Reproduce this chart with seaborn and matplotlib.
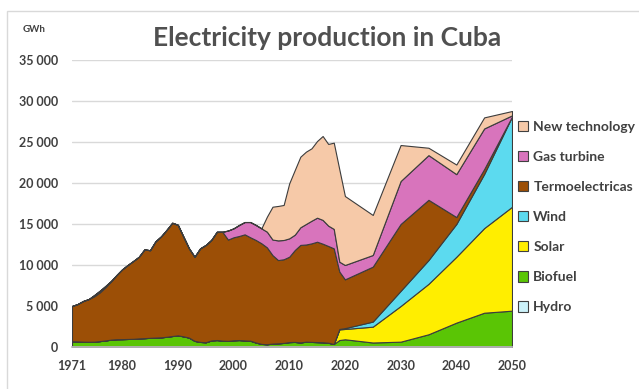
import matplotlib
matplotlib.use("Agg")
import matplotlib.pyplot as plt
import seaborn as sns
from matplotlib.patches import Rectangle, Patch
from matplotlib.ticker import FuncFormatter, MultipleLocator

# Annual history 1971-2019, then five-year scenario steps to 2050 (GWh)
years = list(range(1971, 2020)) + [2020, 2025, 2030, 2035, 2040, 2045, 2050]

hydro = [90, 90, 90, 90, 90, 90, 90, 90, 90, 90,
         90, 90, 90, 90, 90, 90, 90, 90, 90, 90,
         90, 90, 90, 90, 90, 90, 90, 90, 90, 90,
         90, 90, 90, 90, 90, 90, 90, 90, 90, 90,
         90, 90, 90, 90, 90, 90, 90, 90, 90,
         100, 100, 100, 100, 100, 100, 100]

biofuel = [610, 590, 560, 550, 560, 630, 710, 810, 860, 870,
           890, 910, 960, 990, 1030, 1060, 1090, 1160, 1250, 1330,
           1210, 1060, 660, 530, 490, 710, 760, 690, 660, 730,
           760, 710, 680, 460, 290, 250, 330, 360, 410, 510,
           530, 470, 560, 530, 510, 490, 430, 280, 760,
           840, 450, 550, 1450, 2870, 4080, 4330]

solar = [0] * 48 + [1300,
         1260, 1930, 4350, 6150, 8030, 10320, 12670]

wind = [0] * 48 + [50,
        100, 620, 1850, 2900, 4000, 6600, 11000]

termo = [4300, 4560, 4960, 5210, 5540, 5950, 6490, 7100, 7830, 8510,
         9020, 9490, 9950, 10820, 10680, 11750, 12320, 13050, 13810, 13480,
         12150, 10880, 10250, 11410, 11860, 12250, 13200, 13270, 12350, 12560,
         12690, 12940, 12610, 12500, 12270, 11810, 10780, 10150, 10200, 10410,
         11210, 11890, 11850, 12020, 12240, 12020, 11800, 11660, 7000,
         5950, 6700, 8150, 7350, 850, 600, 0]

gas = [0, 0, 0, 0, 150, 200, 150, 50, 0, 0,
       0, 0, 0, 0, 0, 0, 0, 0, 0, 0,
       0, 0, 0, 0, 0, 0, 0, 0, 1100, 1090,
       1340, 1500, 1860, 1830, 1820, 1910, 1900, 2400, 2350, 2240,
       1870, 2150, 2500, 2760, 2930, 2900, 2480, 2370, 1200,
       1750, 1420, 5240, 5450, 5230, 4950, 150]

newtech = [0] * 30 + [0, 0, 0, 0, 0, 1840, 4010, 4200, 4270, 6710,
           7890, 8610, 8820, 8830, 9350, 10230, 9960, 10520, 11250,
           8410, 4880, 4390, 900, 1170, 1350, 530]

labels = ["Hydro", "Biofuel", "Solar", "Wind", "Termoelectricas",
          "Gas turbine", "New technology"]
colors = ["#CCF2FA", "#5AC505", "#FFEE00", "#5CDAEF", "#9C4F06",
          "#D874BC", "#F6C9A8"]

x_ticks = [1971, 1980, 1990, 2000, 2010, 2020, 2030, 2040, 2050]

sns.set_theme(style="white")
plt.rcParams["font.family"] = ["Lato", "DejaVu Sans"]

fig = plt.figure(figsize=(6.39, 3.89), dpi=100)
ax = fig.add_axes([72 / 639, 42 / 389, 440 / 639, 287 / 389])

ax.stackplot(years, hydro, biofuel, solar, wind, termo, gas, newtech,
             colors=colors, edgecolor="#3c3c3c", linewidth=0.8,
             labels=labels, zorder=2)

ax.set_xlim(1971, 2050)
ax.set_ylim(0, 35000)
ax.yaxis.set_major_locator(MultipleLocator(5000))
ax.yaxis.set_major_formatter(FuncFormatter(lambda v, _: f"{int(v):,}".replace(",", " ")))
ax.set_xticks(x_ticks)
ax.xaxis.set_minor_locator(MultipleLocator(1))
ax.yaxis.grid(True, color="#D9D9D9", linewidth=1)
ax.xaxis.grid(False)
ax.set_axisbelow(True)

for side in ("left", "right", "top"):
    ax.spines[side].set_visible(False)
ax.spines["bottom"].set_color("#BFBFBF")
ax.spines["bottom"].set_zorder(3)

ax.tick_params(axis="y", length=0, pad=10, labelsize=9, labelcolor="#404040")
ax.tick_params(axis="x", which="both", length=3, color="#BFBFBF",
               direction="out", pad=6, labelsize=9, labelcolor="#404040")
for lab in ax.get_xticklabels() + ax.get_yticklabels():
    lab.set_fontweight("bold")

fig.text(327 / 639, 1 - 38 / 389, "Electricity production in Cuba",
         ha="center", va="center", fontsize=19, fontweight="bold",
         color="#505050")
fig.text(34 / 639, 1 - 29 / 389, "GWh", ha="center", va="center",
         fontsize=7, fontweight="bold", color="#404040")

handles = [Patch(facecolor=c, edgecolor="#404040", linewidth=0.8) for c in colors]
leg = fig.legend(handles[::-1], labels[::-1], loc="upper left",
                 bbox_to_anchor=(518 / 639, 1 - 121 / 389), frameon=False,
                 prop={"size": 10, "weight": "bold"}, labelspacing=1.3,
                 handlelength=0.75, handleheight=0.75, handletextpad=0.35,
                 borderpad=0, borderaxespad=0)
for t in leg.get_texts():
    t.set_color("#404040")

fig.add_artist(Rectangle((7 / 639, -0.05), 1.0, 1.05 - 11 / 389,
                         transform=fig.transFigure, fill=False,
                         edgecolor="#D9D9D9", linewidth=1))

fig.savefig("out.png", dpi=100)
